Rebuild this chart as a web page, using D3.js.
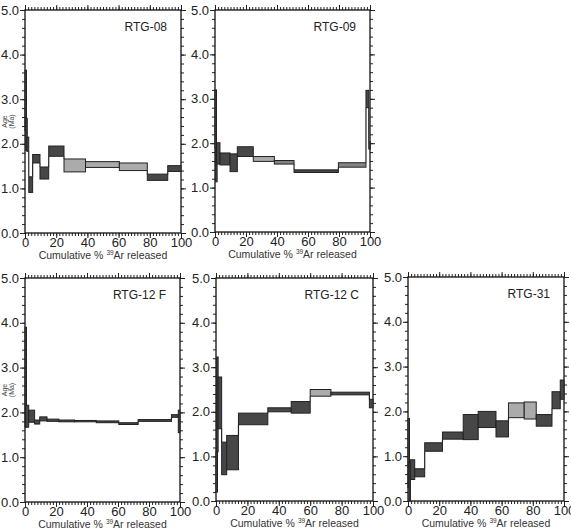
<!DOCTYPE html>
<html>
<head>
<meta charset="utf-8">
<script src="https://cdn.jsdelivr.net/npm/d3@7"></script>
<style>
body { margin: 0; background: #fff; }
svg { display: block; font-family: "Liberation Sans", Arial, sans-serif; }
</style>
</head>
<body>
<svg width="571" height="530"></svg>
<script>
// step edges (cumulative % 39Ar), age bounds (Ma) and shade (0 dark, 1 light, 2 mid)
var rtg08Cum = [0, 0.5, 1.2, 2.4, 4.9, 9.6, 15.2, 25.0, 38.8, 60.5, 78.4, 91.5, 100];
var rtg08Lo = [2.30, 1.85, 1.83, 0.91, 1.57, 1.21, 1.72, 1.37, 1.47, 1.40, 1.18, 1.38];
var rtg08Hi = [3.65, 2.57, 2.15, 1.26, 1.76, 1.48, 1.95, 1.66, 1.60, 1.57, 1.32, 1.51];
var rtg08Shade = [0, 0, 0, 0, 0, 0, 0, 1, 1, 1, 0, 0];

var rtg09Cum = [0, 0.4, 1.0, 3.2, 9.7, 14.4, 24.7, 38.3, 51.0, 79.6, 97.4, 99.2, 100];
var rtg09Lo = [1.90, 1.13, 1.53, 1.51, 1.36, 1.70, 1.59, 1.53, 1.34, 1.46, 2.80, 1.87];
var rtg09Hi = [3.20, 1.90, 2.01, 1.78, 1.76, 1.92, 1.70, 1.61, 1.40, 1.56, 3.19, 2.03];
var rtg09Shade = [0, 0, 0, 0, 0, 0, 1, 2, 0, 2, 0, 0];

var rtg12fCum = [0, 0.4, 2.4, 6.2, 9.5, 14.2, 21.8, 32.0, 46.0, 60.5, 73.0, 94.5, 98.9, 100];
var rtg12fLo = [1.67, 1.67, 1.78, 1.74, 1.81, 1.80, 1.79, 1.79, 1.77, 1.73, 1.80, 1.89, 1.55];
var rtg12fHi = [3.90, 2.16, 2.05, 1.83, 1.90, 1.85, 1.83, 1.82, 1.81, 1.77, 1.84, 1.95, 2.05];
var rtg12fShade = [0, 0, 0, 0, 0, 0, 0, 0, 0, 0, 0, 0, 0];

var rtg12cCum = [0, 0.4, 1.3, 3.6, 6.8, 14.3, 33.0, 47.9, 60.0, 73.2, 97.7, 100];
var rtg12cLo = [0.20, 1.10, 1.62, 0.59, 0.70, 1.71, 2.00, 1.97, 2.35, 2.38, 2.09];
var rtg12cHi = [1.10, 3.23, 2.78, 1.32, 1.47, 1.97, 2.09, 2.23, 2.50, 2.44, 2.28];
var rtg12cShade = [0, 0, 0, 0, 0, 0, 0, 0, 1, 0, 0];

var rtg31Cum = [0, 0.6, 1.5, 4.3, 10.7, 22.1, 35.4, 45.0, 56.4, 64.4, 74.5, 82.2, 92.3, 97.6, 100];
var rtg31Lo = [0.30, 0.00, 0.48, 0.54, 1.11, 1.38, 1.37, 1.64, 1.43, 1.86, 1.83, 1.67, 2.06, 2.27];
var rtg31Hi = [1.84, 0.85, 0.92, 0.72, 1.30, 1.54, 1.93, 2.00, 1.79, 2.19, 2.21, 1.93, 2.44, 2.70];
var rtg31Shade = [0, 0, 0, 0, 0, 0, 0, 0, 0, 1, 1, 0, 0, 0];

var ageTicks = [0, 1, 2, 3, 4, 5];
var cumTicks = [0, 20, 40, 60, 80, 100];

var panels = [
    {name: "RTG-08", cum: rtg08Cum, lo: rtg08Lo, hi: rtg08Hi, shade: rtg08Shade, left: 25, right: 181, top: 10, bottom: 233, ageLabel: true},
    {name: "RTG-09", cum: rtg09Cum, lo: rtg09Lo, hi: rtg09Hi, shade: rtg09Shade, left: 215, right: 370, top: 10, bottom: 232},
    {name: "RTG-12 F", cum: rtg12fCum, lo: rtg12fLo, hi: rtg12fHi, shade: rtg12fShade, left: 25, right: 180, top: 278, bottom: 502, ageLabel: true},
    {name: "RTG-12 C", cum: rtg12cCum, lo: rtg12cLo, hi: rtg12cHi, shade: rtg12cShade, left: 216, right: 373, top: 278, bottom: 501},
    {name: "RTG-31", cum: rtg31Cum, lo: rtg31Lo, hi: rtg31Hi, shade: rtg31Shade, left: 408, right: 564, top: 277, bottom: 501}
];

var fills = ["#474747", "#ababab", "#858585"];
var svg = d3.select("svg");

function styleAxis(sel) {
    sel.select(".domain").remove();
    sel.selectAll("line").attr("stroke", "#222");
    sel.selectAll("text").attr("fill", "#222").style("font-size", "13px").style("font-family", "Liberation Sans, Arial, sans-serif");
}

panels.forEach(function(p) {
    var x = d3.scaleLinear().domain([0, 100]).range([p.left, p.right]);
    var y = d3.scaleLinear().domain([0, 5]).range([p.bottom, p.top]);
    var g = svg.append("g");

    var minorAge = d3.range(0, 26).map(function(i) { return i * 0.2; });
    var minorCum = d3.range(0, 51).map(function(i) { return i * 2; });

    // minor ticks on all four sides
    g.append("g").attr("transform", "translate(" + p.left + ",0)")
        .call(d3.axisLeft(y).tickValues(minorAge).tickSize(3).tickFormat("")).call(styleAxis);
    g.append("g").attr("transform", "translate(" + p.right + ",0)")
        .call(d3.axisRight(y).tickValues(minorAge).tickSize(3).tickFormat("")).call(styleAxis);
    g.append("g").attr("transform", "translate(0," + p.bottom + ")")
        .call(d3.axisBottom(x).tickValues(minorCum).tickSize(3).tickFormat("")).call(styleAxis);
    g.append("g").attr("transform", "translate(0," + p.top + ")")
        .call(d3.axisTop(x).tickValues(minorCum).tickSize(3).tickFormat("")).call(styleAxis);

    // major ticks with labels
    g.append("g").attr("transform", "translate(" + p.left + ",0)")
        .call(d3.axisLeft(y).tickValues(ageTicks).tickSize(5).tickPadding(1).tickFormat(d3.format(".1f"))).call(styleAxis);
    g.append("g").attr("transform", "translate(" + p.right + ",0)")
        .call(d3.axisRight(y).tickValues(ageTicks).tickSize(5).tickFormat("")).call(styleAxis);
    g.append("g").attr("transform", "translate(0," + p.bottom + ")")
        .call(d3.axisBottom(x).tickValues(cumTicks).tickSize(5).tickPadding(0)).call(styleAxis);
    g.append("g").attr("transform", "translate(0," + p.top + ")")
        .call(d3.axisTop(x).tickValues(cumTicks).tickSize(5).tickFormat("")).call(styleAxis);

    // frame
    g.append("rect")
        .attr("x", p.left).attr("y", p.top)
        .attr("width", p.right - p.left).attr("height", p.bottom - p.top)
        .attr("fill", "none").attr("stroke", "#111").attr("stroke-width", 1.3);

    var steps = p.lo.map(function(lo, i) {
        return {x0: p.cum[i], x1: p.cum[i + 1], lo: lo, hi: p.hi[i], shade: p.shade[i]};
    });

    // vertical connectors between neighbouring steps
    var links = [];
    for (var i = 0; i < steps.length - 1; i++) {
        var a = steps[i], b = steps[i + 1];
        if (b.lo > a.hi) links.push({x: a.x1, y0: a.hi, y1: b.lo});
        else if (b.hi < a.lo) links.push({x: a.x1, y0: b.hi, y1: a.lo});
    }
    g.selectAll(".link").data(links).enter().append("line")
        .attr("x1", function(d) { return x(d.x); })
        .attr("x2", function(d) { return x(d.x); })
        .attr("y1", function(d) { return y(d.y0); })
        .attr("y2", function(d) { return y(d.y1); })
        .attr("stroke", "#222").attr("stroke-width", 1.2);

    g.selectAll(".step").data(steps).enter().append("rect")
        .attr("x", function(d) { return x(d.x0); })
        .attr("y", function(d) { return y(d.hi); })
        .attr("width", function(d) { return Math.max(x(d.x1) - x(d.x0), 1.5); })
        .attr("height", function(d) { return y(d.lo) - y(d.hi); })
        .attr("fill", function(d) { return fills[d.shade]; })
        .attr("stroke", "#222").attr("stroke-width", 1);

    // sample name
    g.append("text")
        .attr("x", p.right - 14).attr("y", p.top + 21)
        .attr("text-anchor", "end")
        .attr("fill", "#222").style("font-size", "12px")
        .text(p.name);

    // x axis title
    var t = g.append("text")
        .attr("x", (p.left + p.right) / 2).attr("y", p.bottom + 26)
        .attr("text-anchor", "middle")
        .attr("fill", "#333").style("font-size", "10.5px");
    t.append("tspan").text("Cumulative % ");
    t.append("tspan").attr("dy", -4).style("font-size", "6.5px").text("39");
    t.append("tspan").attr("dy", 4).text("Ar released");

    if (p.ageLabel) {
        var a = g.append("text")
            .attr("transform", "translate(" + (p.left - 18) + "," + y(2.5) + ") rotate(-90)")
            .attr("text-anchor", "middle")
            .attr("fill", "#444").style("font-size", "7px");
        a.append("tspan").attr("x", 0).attr("dy", 0).text("Age");
        a.append("tspan").attr("x", 0).attr("dy", 7).text("(Ma)");
    }
});
</script>
</body>
</html>
